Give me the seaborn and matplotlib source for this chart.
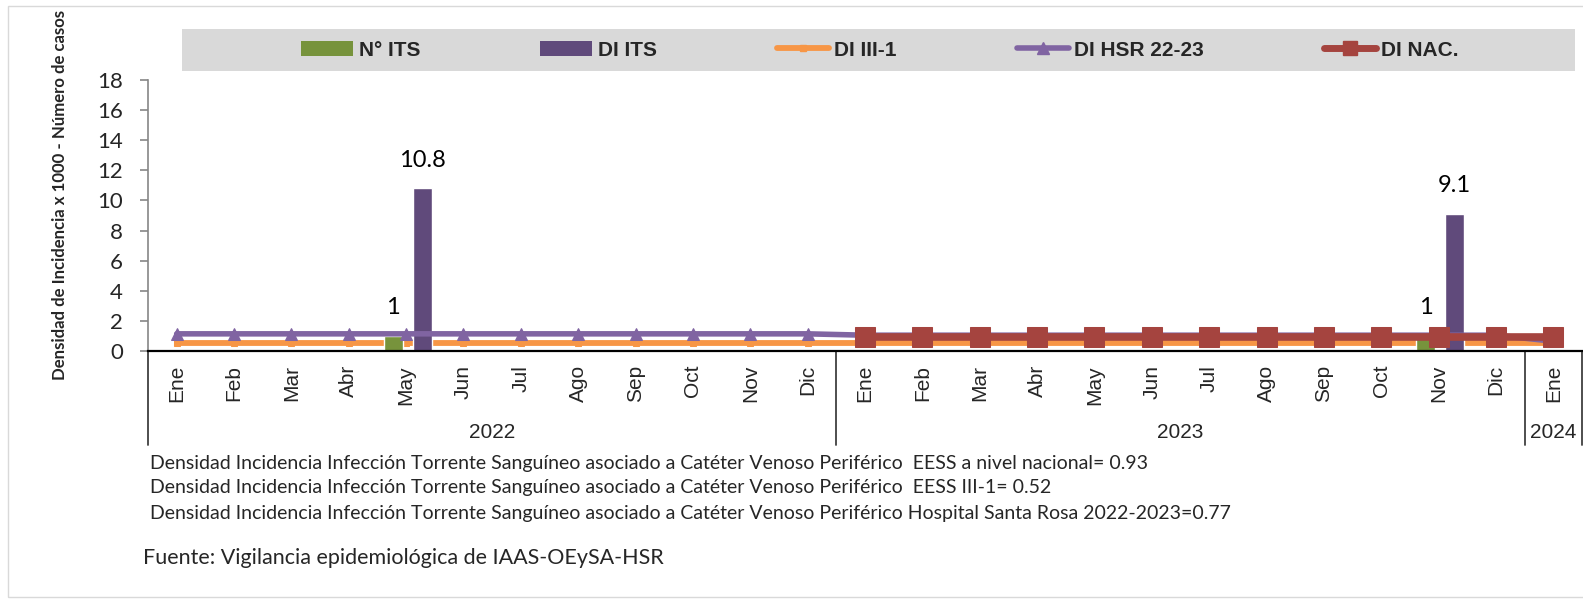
import matplotlib
matplotlib.use("Agg")
import matplotlib.pyplot as plt
import matplotlib.transforms as mtransforms
from matplotlib.patches import Patch, Rectangle
from matplotlib.lines import Line2D
from matplotlib.font_manager import FontProperties
import seaborn as sns
import numpy as np
import pandas as pd

# ---------------- data ----------------
months = ["Ene", "Feb", "Mar", "Abr", "May", "Jun", "Jul", "Ago", "Sep", "Oct", "Nov", "Dic",
          "Ene", "Feb", "Mar", "Abr", "May", "Jun", "Jul", "Ago", "Sep", "Oct", "Nov", "Dic",
          "Ene"]
years = ["2022", "2023", "2024"]
year_counts = [12, 12, 1]

n_its = [0, 0, 0, 0, 1, 0, 0, 0, 0, 0, 0, 0,
         0, 0, 0, 0, 0, 0, 0, 0, 0, 0, 1, 0,
         0]
di_its = [0, 0, 0, 0, 10.8, 0, 0, 0, 0, 0, 0, 0,
          0, 0, 0, 0, 0, 0, 0, 0, 0, 0, 9.1, 0,
          0]
di_iii1 = [0.52, 0.52, 0.52, 0.52, 0.52, 0.52, 0.52, 0.52, 0.52, 0.52, 0.52, 0.52,
           0.52, 0.52, 0.52, 0.52, 0.52, 0.52, 0.52, 0.52, 0.52, 0.52, 0.52, 0.52,
           0.52]
di_hsr = [1.14, 1.14, 1.14, 1.14, 1.14, 1.14, 1.14, 1.14, 1.14, 1.14, 1.14, 1.14,
          1.05, 1.05, 1.05, 1.05, 1.05, 1.05, 1.05, 1.05, 1.05, 1.05, 1.05, 1.05,
          0.65]
di_nac = [None, None, None, None, None, None, None, None, None, None, None, None,
          0.93, 0.93, 0.93, 0.93, 0.93, 0.93, 0.93, 0.93, 0.93, 0.93, 0.93, 0.93,
          0.93]

series_names = ["N° ITS", "DI ITS", "DI III-1", "DI HSR 22-23", "DI NAC."]

footnotes = [
    "Densidad Incidencia Infección Torrente Sanguíneo asociado a Catéter Venoso Periférico  EESS a nivel nacional= 0.93",
    "Densidad Incidencia Infección Torrente Sanguíneo asociado a Catéter Venoso Periférico  EESS III-1= 0.52",
    "Densidad Incidencia Infección Torrente Sanguíneo asociado a Catéter Venoso Periférico Hospital Santa Rosa 2022-2023=0.77",
]
source = "Fuente: Vigilancia epidemiológica de IAAS-OEySA-HSR"
ylabel = "Densidad de Incidencia x 1000 - Número de casos"

# ---------------- style ----------------
sns.set_theme(style="white")
plt.rcParams['font.family'] = ['Lato', 'DejaVu Sans']

C_GREEN = "#77933C"
C_PURPLE_BAR = "#604A7B"
C_ORANGE = "#F79646"
C_PURPLE = "#8064A2"
C_RED = "#A5443F"

W, H = 1583, 604
fig = plt.figure(figsize=(W / 100, H / 100), dpi=100)
fig.patch.set_facecolor("white")

ax_left, ax_right = 148, 1582
ax_top, ax_bottom = 80, 351
ax = fig.add_axes([ax_left / W, 1 - ax_bottom / H, (ax_right - ax_left) / W, (ax_bottom - ax_top) / H])
ax_h_px = ax_bottom - ax_top

x = np.arange(len(months))
off_g, off_p, bw = -0.225, 0.28, 0.33

df = pd.DataFrame({"x": x, "n_its": n_its, "di_its": di_its, "di_iii1": di_iii1,
                   "di_hsr": di_hsr, "di_nac": di_nac})

# orange line beneath bars
sns.lineplot(data=df, x="x", y="di_iii1", color=C_ORANGE, lw=4.2, marker="s", markersize=4.5,
             markeredgecolor=C_ORANGE, ax=ax, zorder=1.5, legend=False)

sns.barplot(x=df["x"] + off_g, y=df["n_its"], native_scale=True, width=bw, color=C_GREEN,
            saturation=1, errorbar=None, ax=ax, zorder=2)
sns.barplot(x=df["x"] + off_p, y=df["di_its"], native_scale=True, width=bw, color=C_PURPLE_BAR,
            saturation=1, errorbar=None, ax=ax, zorder=2)

sns.lineplot(data=df, x="x", y="di_hsr", color=C_PURPLE, lw=4.0, marker="^", markersize=8,
             markeredgecolor=C_PURPLE, ax=ax, zorder=3, legend=False)
nac = df.dropna(subset=["di_nac"])
sns.lineplot(data=nac, x="x", y="di_nac", color=C_RED, lw=5.5, marker="s", markersize=14.5,
             markeredgecolor=C_RED, ax=ax, zorder=4, legend=False)

# data labels
for i, v in enumerate(n_its):
    if v:
        ax.text(i + off_g, v + 1.87, f"{v:g}", ha="center", va="center", fontsize=17, color="black")
for i, v in enumerate(di_its):
    if v:
        ax.text(i + off_p, v + 1.87, f"{v:.1f}", ha="center", va="center", fontsize=17, color="black")

# axes
ax.set_xlim(-0.5, len(months) - 0.5)
ax.set_ylim(0, 18)
ax.set_yticks(np.arange(0, 19, 2))
ax.set_yticklabels([str(v) for v in range(0, 19, 2)], fontsize=16)
ax.set_xticks(x)
ax.set_xticklabels(months, rotation=90, fontsize=15, family="Liberation Sans")
ax.tick_params(axis="x", length=0, pad=10)
ax.tick_params(axis="y", length=6, width=1.2, color="#868686", pad=12, left=True)
ax.set_xlabel("")
ax.set_ylabel("")
for s in ["top", "right"]:
    ax.spines[s].set_visible(False)
ax.spines["left"].set_color("#868686")
ax.spines["left"].set_linewidth(1.2)
ax.spines["bottom"].set_color("black")
ax.spines["bottom"].set_linewidth(1.6)
ax.grid(False)

# year grouping
trans = mtransforms.blended_transform_factory(ax.transData, ax.transAxes)
sep_bottom = -(445 - ax_bottom) / ax_h_px
year_y = -(432 - ax_bottom) / ax_h_px
start = 0
bounds = [-0.5]
for yr, n in zip(years, year_counts):
    ax.text(start + (n - 1) / 2, year_y, yr, transform=trans, ha="center", va="center",
            fontsize=15, family="Liberation Sans")
    start += n
    bounds.append(start - 0.5)
for b in bounds:
    ax.axvline(b, ymin=sep_bottom, ymax=0, clip_on=False, color="#404040", lw=1.3)

# y label
fig.text(60 / W, 1 - 195 / H, ylabel, rotation=90, ha="center", va="center",
         fontsize=12.1, fontweight="bold")

# legend
fig.patches.append(Rectangle((182 / W, 1 - 71 / H), (1575 - 182) / W, 42 / H,
                             transform=fig.transFigure, facecolor="#D9D9D9", edgecolor="none", zorder=0))
handles = [
    Patch(facecolor=C_GREEN, edgecolor="none"),
    Patch(facecolor=C_PURPLE_BAR, edgecolor="none"),
    Line2D([], [], color=C_ORANGE, lw=4.2, marker="s", markersize=4.5, markeredgecolor=C_ORANGE),
    Line2D([], [], color=C_PURPLE, lw=4.0, marker="^", markersize=8, markeredgecolor=C_PURPLE),
    Line2D([], [], color=C_RED, lw=5.0, marker="s", markersize=10, markeredgecolor=C_RED),
]
leg = fig.legend(handles, series_names, loc="center left", bbox_to_anchor=(301 / W, 1 - 50 / H),
                 ncol=5, frameon=False, prop=FontProperties(family="Liberation Sans", weight="bold", size=15),
                 handlelength=2.5, handletextpad=0.27, columnspacing=5.75, borderpad=0, borderaxespad=0)

# footnotes
for k, t in enumerate(footnotes):
    fig.text(150 / W, 1 - (463 + 25 * k) / H, t, ha="left", va="center", fontsize=14)
fig.text(143 / W, 1 - 558 / H, source, ha="left", va="center", fontsize=15.5)

# outer border
fig.patches.append(Rectangle((8 / W, 1 - 597 / H), 1.0, (597 - 6) / H, transform=fig.transFigure,
                             facecolor="none", edgecolor="#D9D9D9", lw=1.0, zorder=0))

fig.savefig("out.png", dpi=100)
